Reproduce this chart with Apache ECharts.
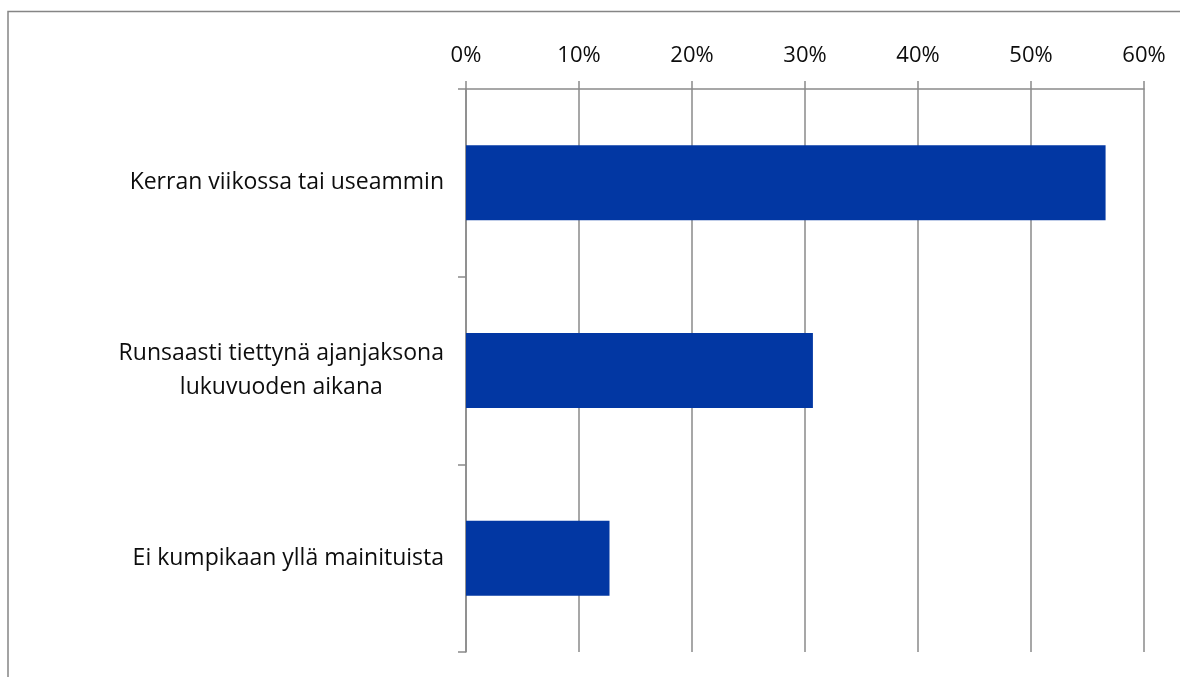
<!DOCTYPE html>
<html>
<head>
<meta charset="utf-8">
<script src="https://cdn.jsdelivr.net/npm/echarts@6/dist/echarts.min.js"></script>
<style>
  html, body { margin: 0; padding: 0; background: #ffffff; }
  #chart { width: 1180px; height: 677px; }
</style>
</head>
<body>
<div id="chart"></div>
<script>
// Answer categories, top to bottom
const categories = [
  'Kerran viikossa tai useammin',
  'Runsaasti tiettynä ajanjaksona\nlukuvuoden aikana',
  'Ei kumpikaan yllä mainituista'
];
// Share of respondents, percent
const shares = [56.6, 30.7, 12.7];
// Percentage axis ticks
const axisMin = 0;
const axisMax = 60;
const axisStep = 10;

const FONT = '"Open Sans", sans-serif';
const GRAY = '#8a8a8a';

const chart = echarts.init(document.getElementById('chart'), null, { renderer: 'canvas' });

chart.setOption({
  backgroundColor: '#ffffff',
  animation: false,
  grid: { left: 466, right: 36, top: 89, bottom: 25, containLabel: false },
  xAxis: {
    type: 'value',
    position: 'top',
    min: axisMin,
    max: axisMax,
    interval: axisStep,
    axisLine: { show: true, lineStyle: { color: GRAY, width: 1.5 } },
    axisTick: { show: true, length: 8, lineStyle: { color: GRAY, width: 1.5 } },
    splitLine: { show: true, lineStyle: { color: GRAY, width: 1.5 } },
    axisLabel: {
      margin: 22,
      formatter: v => v + '%',
      fontFamily: FONT,
      fontSize: 22,
      color: '#0d0d0d'
    }
  },
  yAxis: {
    type: 'category',
    inverse: true,
    data: categories,
    axisLine: { show: true, lineStyle: { color: GRAY, width: 1.5 } },
    axisTick: { show: true, length: 8, lineStyle: { color: GRAY, width: 1.5 } },
    axisLabel: {
      margin: 22,
      align: 'right',
      color: '#0d0d0d',
      // each line centred within the right-aligned label block
      formatter: v => v.split('\n').map(s => '{c|' + s + '}').join('\n'),
      rich: {
        c: {
          align: 'center',
          fontFamily: FONT,
          fontSize: 23,
          lineHeight: 34,
          color: '#0d0d0d'
        }
      }
    }
  },
  series: [{
    type: 'bar',
    data: shares,
    barWidth: 75,
    itemStyle: { color: '#0237a3' }
  }],
  graphic: [{
    type: 'polyline',
    silent: true,
    shape: { points: [[8, 677], [8, 11.5], [1180, 11.5]] },
    style: { stroke: '#858585', lineWidth: 1.5, fill: null }
  }]
});
</script>
</body>
</html>
